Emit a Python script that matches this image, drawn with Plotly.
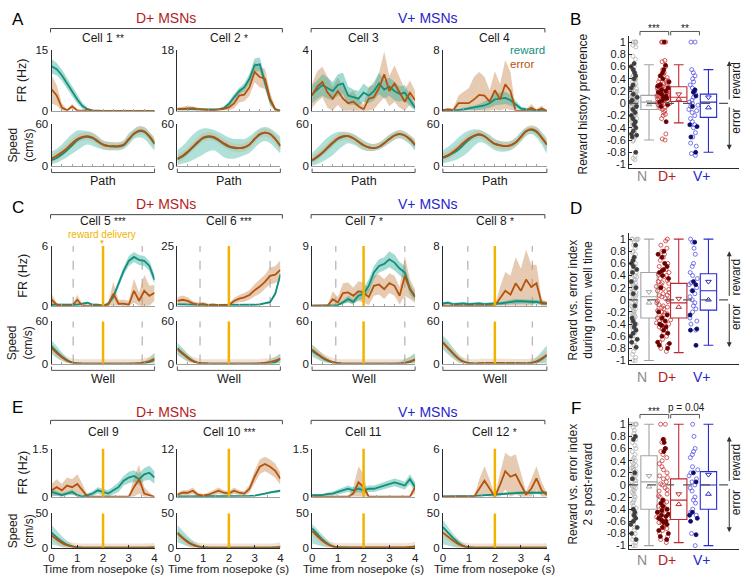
import plotly.graph_objects as go

# ---------------- data ----------------
PATH_X = [0, 0.05, 0.1, 0.15, 0.2, 0.25, 0.3, 0.35, 0.4, 0.45, 0.5, 0.55, 0.6, 0.65, 0.7, 0.75, 0.8, 0.85, 0.9, 0.95, 1]
TIME_X = [0, 0.2, 0.4, 0.6, 0.8, 1.0, 1.2, 1.4, 1.6, 1.8, 2.0, 2.2, 2.4, 2.6, 2.8, 3.0, 3.2, 3.4, 3.6, 3.8, 4.0]

# firing rate (mean, sem) reward / error
C1_RW = [11.0, 10.3, 8.8, 6.8, 4.8, 2.8, 1.2, 0.4, 0.1, 0, 0, 0, 0, 0, 0, 0, 0, 0, 0, 0, 0]
C1_RW_SE = [1.8, 1.5, 1.4, 1.3, 1.2, 1.0, 0.7, 0.3, 0.1, 0.05, 0.05, 0.05, 0.05, 0.05, 0.05, 0.05, 0.05, 0.05, 0.05, 0.05, 0.05]
C1_ER = [5.3, 3.8, 0.8, 0.1, 1.1, 0.1, 0.0, 0.3, 0, 0, 0, 0, 0, 0, 0, 0, 0, 0, 0, 0, 0]
C1_ER_SE = [3.5, 2.5, 1.0, 0.3, 0.6, 0.2, 0.1, 0.2, 0, 0, 0, 0, 0, 0, 0, 0, 0, 0, 0, 0, 0]

C2_RW = [0.5, 0.5, 0.4, 0.4, 0.3, 0.3, 0.3, 0.3, 0.4, 0.8, 2.0, 4.0, 5.8, 7.0, 9.5, 13.5, 13.8, 8.5, 3.0, 0.5, 0]
C2_RW_SE = [0.4, 0.3, 0.3, 0.3, 0.2, 0.2, 0.2, 0.2, 0.3, 0.5, 0.8, 1.0, 1.0, 1.2, 1.5, 2.0, 2.0, 1.5, 1.0, 0.3, 0]
C2_ER = [0.5, 0.6, 0.9, 0.8, 0.5, 0.3, 0.2, 0.2, 0.3, 0.6, 1.0, 2.2, 4.5, 4.8, 7.0, 11.5, 10.0, 9.5, 3.5, 0.4, 0]
C2_ER_SE = [0.4, 0.5, 0.6, 0.5, 0.4, 0.3, 0.2, 0.2, 0.3, 0.5, 0.8, 1.5, 2.0, 2.0, 2.5, 3.0, 3.0, 3.0, 2.0, 0.5, 0]

C3_RW = [1.1, 1.4, 1.7, 1.5, 1.3, 1.7, 1.8, 1.0, 0.9, 0.8, 1.2, 1.0, 1.3, 1.8, 1.4, 1.6, 1.3, 1.1, 1.2, 0.7, 0.2]
C3_RW_SE = [0.6, 0.6, 0.7, 0.7, 0.6, 0.7, 0.7, 0.6, 0.5, 0.5, 0.6, 0.5, 0.6, 0.7, 0.6, 0.6, 0.6, 0.5, 0.5, 0.4, 0.2]
C3_ER = [1.0, 1.6, 1.9, 1.2, 0.8, 1.3, 0.8, 0.5, 0.6, 0.3, 0.1, 0.8, 0.9, 1.5, 2.4, 1.3, 1.8, 1.2, 0.6, 1.2, 0.7]
C3_ER_SE = [0.8, 1.0, 1.0, 1.0, 0.8, 0.9, 0.8, 0.6, 0.7, 0.5, 0.3, 0.8, 0.8, 1.0, 1.5, 1.0, 1.2, 1.0, 0.8, 0.8, 0.6]

C4_RW = [0.1, 0.1, 0.1, 0.1, 0.2, 0.3, 0.4, 0.5, 0.7, 1.0, 1.5, 1.6, 1.7, 1.4, 0.8, 0.3, 0.2, 0.1, 0.1, 0.1, 0]
C4_RW_SE = [0.1, 0.1, 0.1, 0.1, 0.2, 0.2, 0.3, 0.4, 0.5, 0.6, 0.8, 0.8, 0.8, 0.7, 0.5, 0.3, 0.2, 0.1, 0.1, 0.1, 0]
C4_ER = [0.1, 0.2, 0.1, 1.0, 1.0, 1.0, 1.5, 2.1, 2.0, 1.2, 2.7, 1.5, 3.5, 2.6, 0, 0, 0, 0.4, 0, 0.3, 0]
C4_ER_SE = [0.1, 0.2, 0.2, 1.0, 1.5, 2.0, 3.0, 3.0, 2.5, 1.5, 2.5, 2.0, 3.2, 2.5, 0.2, 0, 0.2, 0.5, 0.2, 0.4, 0]

C5_RW = [0.1, 0.1, 0.1, 0.1, 0.1, 0.1, 0.2, 0.3, 0.1, 0.1, 0, 0.2, 0.9, 2.2, 3.5, 4.5, 4.9, 4.6, 4.5, 4.0, 2.6]
C5_RW_SE = [0.1, 0.1, 0.1, 0.1, 0.1, 0.1, 0.1, 0.1, 0.1, 0.1, 0.1, 0.2, 0.3, 0.4, 0.4, 0.5, 0.5, 0.5, 0.5, 0.5, 0.5]
C5_ER = [0.6, 0.1, 0, 0, 0, 0.6, 0, 0, 0, 0, 0, 0.1, 1.2, 0.2, 0.2, 0.1, 1.5, 0.5, 1.5, 1.0, 1.3]
C5_ER_SE = [0.6, 0.2, 0, 0, 0.1, 0.5, 0.1, 0, 0, 0, 0, 0.2, 1.2, 0.4, 0.4, 0.4, 1.2, 0.8, 1.6, 1.0, 0.8]

C6_RW = [0.6, 0.5, 0.4, 0.4, 0.4, 0.3, 0.3, 0.3, 0.3, 0.2, 0.2, 0.2, 0.2, 0.3, 0.3, 0.4, 0.6, 0.9, 1.5, 5.0, 13.0]
C6_RW_SE = [0.3, 0.3, 0.3, 0.3, 0.3, 0.3, 0.3, 0.3, 0.3, 0.2, 0.2, 0.2, 0.2, 0.2, 0.2, 0.3, 0.3, 0.4, 0.5, 0.8, 1.5]
C6_ER = [2.0, 2.5, 2.0, 1.0, 0.5, 0.8, 0.3, 0.5, 0.2, 0.2, 0.3, 2.0, 3.0, 3.5, 4.5, 6.5, 8.0, 10.0, 12.5, 13.0, 15.0]
C6_ER_SE = [1.5, 1.8, 1.5, 1.0, 0.8, 0.8, 0.5, 0.5, 0.4, 0.3, 0.4, 1.2, 1.5, 1.8, 2.0, 2.5, 3.0, 3.0, 3.5, 3.5, 4.0]

C7_RW = [0, 0, 0, 0, 0, 0.1, 0.5, 1.0, 0.6, 1.5, 1.8, 3.0, 5.0, 6.0, 6.3, 7.0, 6.5, 5.6, 5.0, 2.5, 1.3]
C7_RW_SE = [0, 0, 0, 0, 0, 0.1, 0.3, 0.5, 0.4, 0.6, 0.8, 1.0, 1.0, 1.0, 1.0, 1.2, 1.2, 1.0, 1.0, 0.8, 0.6]
C7_ER = [0, 0, 0, 0, 1.0, 0.5, 1.9, 2.0, 1.5, 2.2, 2.0, 1.3, 3.0, 3.2, 2.5, 3.4, 3.0, 1.5, 4.5, 2.5, 1.4]
C7_ER_SE = [0, 0, 0, 0, 1.2, 0.8, 1.5, 1.5, 1.2, 1.5, 1.5, 1.2, 1.5, 1.5, 1.5, 1.5, 1.5, 1.3, 3.0, 1.5, 1.0]

C8_RW = [0.3, 0.4, 0.2, 0.3, 0.3, 0.2, 0.3, 0.3, 0.2, 0.3, 0.3, 0.3, 0.4, 0.5, 0.6, 0.6, 0.6, 0.5, 0.5, 0.4, 0.3]
C8_RW_SE = [0.2, 0.2, 0.2, 0.2, 0.2, 0.2, 0.2, 0.2, 0.2, 0.2, 0.2, 0.2, 0.3, 0.3, 0.3, 0.3, 0.3, 0.3, 0.3, 0.3, 0.2]
C8_ER = [0, 0, 0, 0, 0, 0, 0, 0, 0, 0, 0, 1.0, 2.0, 1.5, 3.0, 2.0, 3.5, 2.5, 3.0, 0.3, 0.3]
C8_ER_SE = [0, 0, 0, 0, 0, 0, 0, 0, 0, 0, 0, 1.5, 2.5, 2.5, 3.5, 3.0, 4.0, 3.0, 2.5, 0.5, 0.3]

C9_RW = [0.15, 0.1, 0.05, 0.1, 0.15, 0.05, 0.0, 0.05, 0.1, 0.2, 0.15, 0.1, 0.2, 0.3, 0.5, 0.6, 0.65, 0.55, 0.7, 0.75, 0.6]
C9_RW_SE = [0.1, 0.08, 0.06, 0.06, 0.08, 0.06, 0.05, 0.06, 0.08, 0.1, 0.1, 0.1, 0.12, 0.15, 0.15, 0.18, 0.18, 0.18, 0.2, 0.22, 0.2]
C9_ER = [0.2, 0.3, 0.2, 0.35, 0.3, 0.4, 0.2, 0.0, 0, 0, 0, 0, 0, 0, 0, 0, 0.3, 0.55, 0.1, 0.05, 0]
C9_ER_SE = [0.2, 0.25, 0.2, 0.25, 0.25, 0.3, 0.2, 0.05, 0, 0, 0, 0, 0, 0, 0, 0, 0.3, 0.45, 0.2, 0.08, 0]

C10_RW = [0.1, 0.1, 0.1, 0.1, 0.1, 0.1, 0.1, 0.1, 0.1, 0.1, 0.1, 0.1, 0.1, 0.15, 0.2, 0.3, 0.5, 0.8, 1.1, 1.3, 1.5]
C10_RW_SE = [0.1, 0.1, 0.1, 0.1, 0.1, 0.1, 0.1, 0.1, 0.1, 0.1, 0.1, 0.1, 0.1, 0.1, 0.1, 0.15, 0.2, 0.2, 0.25, 0.3, 0.3]
C10_ER = [0.5, 1.0, 1.0, 1.5, 0.5, 0.3, 0.5, 1.0, 1.5, 1.0, 0.8, 1.5, 1.0, 0.8, 2.0, 5.0, 7.5, 8.2, 7.5, 6.5, 4.5]
C10_ER_SE = [0.5, 0.6, 0.6, 0.8, 0.5, 0.4, 0.5, 0.6, 0.8, 0.6, 0.6, 0.8, 0.6, 0.6, 1.0, 1.5, 1.8, 1.8, 1.8, 1.8, 1.5]

C11_RW = [0.05, 0.05, 0.05, 0.08, 0.1, 0.15, 0.2, 0.25, 0.2, 0.25, 0.2, 0.25, 0.25, 0.3, 0.35, 0.4, 0.45, 0.4, 0.35, 0.55, 0.3]
C11_RW_SE = [0.03, 0.03, 0.04, 0.05, 0.06, 0.08, 0.1, 0.1, 0.1, 0.1, 0.1, 0.1, 0.1, 0.1, 0.12, 0.12, 0.12, 0.12, 0.12, 0.15, 0.15]
C11_ER = [0, 0, 0, 0, 0, 0, 0, 0, 0.1, 0.45, 0.3, 0, 0, 0, 0, 0, 0, 0, 0, 0, 0.3]
C11_ER_SE = [0, 0, 0, 0, 0, 0, 0, 0, 0.2, 0.5, 0.4, 0, 0, 0, 0, 0, 0, 0, 0, 0, 0.2]

C12_RW = [0.05, 0.05, 0.05, 0.05, 0.05, 0.1, 0.1, 0.15, 0.2, 0.25, 0.3, 0.35, 0.4, 0.45, 0.5, 0.5, 0.5, 0.5, 0.5, 0.5, 0.5]
C12_RW_SE = [0.05, 0.05, 0.05, 0.05, 0.05, 0.05, 0.05, 0.08, 0.1, 0.1, 0.12, 0.12, 0.15, 0.15, 0.15, 0.15, 0.15, 0.15, 0.15, 0.2, 0.2]
C12_ER = [0, 0, 0, 0, 0, 0, 0, 1.0, 2.0, 1.0, 0.0, 1.5, 3.2, 2.5, 2.8, 1.5, 0.3, 1.0, 2.3, 0.8, 0.2]
C12_ER_SE = [0, 0, 0, 0, 0, 0, 0, 1.2, 1.8, 1.2, 0.1, 1.5, 2.3, 2.5, 2.5, 1.5, 0.4, 1.2, 1.5, 1.0, 0.3]

# running speed: reward mean, error mean, trial envelope low / high
S1_RW = [8, 11, 16, 22, 29, 36, 40, 41, 39, 34, 30, 28, 27, 27, 29, 37, 45, 49, 48, 41, 31]
S1_ER = [10, 14, 19, 25, 32, 38, 41, 42, 40, 35, 30, 28, 28, 28, 30, 38, 46, 50, 49, 42, 32]
S1_LO = [2, 4, 8, 12, 17, 22, 27, 30, 28, 25, 23, 22, 22, 22, 24, 30, 38, 40, 38, 30, 22]
S1_HI = [20, 24, 30, 38, 45, 50, 50, 49, 47, 42, 36, 34, 33, 33, 36, 46, 52, 56, 55, 48, 38]

S2_RW = [9, 13, 19, 26, 33, 39, 41, 40, 36, 31, 27, 25, 25, 26, 30, 38, 44, 47, 45, 38, 28]
S2_ER = [10, 14, 20, 27, 34, 40, 42, 41, 37, 32, 28, 26, 25, 26, 30, 38, 45, 47, 45, 38, 28]
S2_LO = [1, 3, 5, 8, 12, 16, 20, 22, 18, 12, 10, 10, 12, 15, 18, 25, 32, 35, 32, 25, 18]
S2_HI = [22, 28, 36, 44, 50, 53, 53, 51, 48, 44, 40, 38, 38, 38, 42, 48, 53, 55, 53, 48, 40]

S3_RW = [7, 12, 18, 25, 32, 38, 41, 42, 39, 34, 29, 26, 25, 27, 32, 38, 43, 45, 43, 37, 29]
S3_ER = [8, 13, 19, 26, 33, 39, 42, 42, 39, 34, 29, 26, 25, 27, 32, 38, 43, 45, 43, 38, 30]
S3_LO = [0, 2, 6, 10, 15, 22, 28, 32, 30, 26, 22, 21, 21, 23, 27, 32, 37, 39, 36, 30, 22]
S3_HI = [18, 25, 33, 40, 45, 48, 48, 47, 45, 41, 36, 32, 31, 33, 38, 44, 48, 50, 48, 43, 36]

S4_RW = [11, 14, 18, 23, 30, 37, 42, 44, 42, 36, 31, 29, 28, 29, 33, 41, 49, 51, 48, 40, 30]
S4_ER = [12, 15, 20, 26, 33, 39, 43, 45, 42, 36, 31, 29, 28, 29, 33, 41, 49, 52, 49, 40, 30]
S4_LO = [3, 5, 7, 10, 14, 20, 28, 33, 32, 27, 22, 20, 20, 22, 27, 34, 42, 45, 40, 30, 18]
S4_HI = [22, 27, 33, 40, 46, 50, 52, 51, 48, 44, 38, 35, 34, 35, 40, 48, 54, 56, 55, 48, 38]

S5_RW = [25, 17, 10, 5, 1.5, 0.3, 0, 0, 0, 0, 0, 0, 0, 0, 0, 0, 0, 0, 0.5, 2, 5]
S5_ER = [22, 15, 9, 4, 1, 0.3, 0, 0, 0, 0, 0, 0, 0, 0, 0, 0, 0.2, 0.5, 1.5, 3.5, 7]
S5_LO = [14, 8, 4, 1, 0, 0, 0, 0, 0, 0, 0, 0, 0, 0, 0, 0, 0, 0, 0, 0, 0]
S5_HI = [33, 25, 16, 8, 3, 1, 0.5, 0.5, 0.5, 0.5, 0.5, 0.5, 0.5, 0.5, 0.5, 0.8, 1, 2, 4, 8, 15]

S6_RW = [22, 15, 9, 4, 1, 0.2, 0, 0, 0, 0, 0, 0, 0, 0, 0, 0, 0, 0, 0.3, 1.5, 7]
S6_ER = [20, 14, 8, 3.5, 1, 0.2, 0, 0, 0, 0, 0, 0, 0, 0, 0, 0, 0.5, 1, 2, 4, 7]
S6_LO = [12, 7, 3, 1, 0, 0, 0, 0, 0, 0, 0, 0, 0, 0, 0, 0, 0, 0, 0, 0, 0]
S6_HI = [30, 22, 14, 7, 3, 1, 0.5, 0.5, 0.5, 0.5, 0.5, 0.5, 0.5, 0.5, 0.5, 1, 2, 3, 6, 9, 14]

S7_RW = [18, 13, 8, 4, 1.5, 0.5, 0, 0, 0, 0, 0, 0, 0, 0, 0, 0, 0, 0, 0.5, 2, 5]
S7_ER = [20, 14, 9, 5, 2, 0.5, 0, 0, 0, 0, 0, 0, 0, 0, 0, 0, 0, 0, 1, 3, 6]
S7_LO = [10, 6, 3, 1, 0, 0, 0, 0, 0, 0, 0, 0, 0, 0, 0, 0, 0, 0, 0, 0, 0]
S7_HI = [27, 21, 14, 8, 4, 1.5, 0.5, 0.5, 0.5, 0.5, 0.5, 0.5, 0.5, 0.5, 0.5, 0.5, 1, 3, 6, 10, 14]

S8_RW = [30, 22, 14, 7, 2.5, 0.5, 0, 0, 0, 0, 0, 0.3, 0.5, 0.5, 0.5, 0.3, 0.3, 0.5, 2, 6, 12]
S8_ER = [30, 22, 14, 7, 2.5, 0.5, 0, 0.5, 0.8, 0.8, 0.8, 0.8, 0.8, 0.5, 0.5, 0.3, 0.5, 1, 3, 7, 12]
S8_LO = [20, 13, 7, 2, 0, 0, 0, 0, 0, 0, 0, 0, 0, 0, 0, 0, 0, 0, 0, 0, 0]
S8_HI = [40, 32, 22, 13, 6, 2, 1, 1.5, 1.5, 1.5, 1.5, 1.5, 1.5, 1.5, 1.5, 1.5, 2, 4, 9, 17, 25]

S9_RW = [22, 15, 9, 4.5, 2, 0.7, 0.2, 0, 0, 0, 0, 0, 0, 0, 0, 0, 0, 0, 0, 0, 0]
S9_ER = [18, 12, 7, 3.5, 1.5, 0.5, 0.1, 0, 0, 0, 0, 0, 0, 0, 0, 0, 0, 0, 0, 0.3, 0.5]
S9_LO = [5, 3, 1, 0, 0, 0, 0, 0, 0, 0, 0, 0, 0, 0, 0, 0, 0, 0, 0, 0, 0]
S9_HI = [33, 25, 17, 10, 5, 2, 1, 0.5, 0.5, 0.5, 0.5, 0.5, 0.5, 0.5, 0.5, 0.5, 0.5, 0.5, 0.5, 1, 3]

S10_RW = [22, 15, 9, 4.5, 2, 0.7, 0.2, 0, 0, 0, 0, 0, 0, 0, 0, 0, 0, 0, 0, 0, 0]
S10_ER = [21, 14, 8, 4, 1.5, 0.5, 0.1, 0, 0, 0, 0, 0, 0, 0, 0, 0, 0, 0, 0, 0.5, 1]
S10_LO = [8, 5, 2, 0, 0, 0, 0, 0, 0, 0, 0, 0, 0, 0, 0, 0, 0, 0, 0, 0, 0]
S10_HI = [33, 25, 17, 10, 5, 2, 1, 0.8, 0.8, 0.8, 0.8, 0.8, 0.8, 0.8, 0.8, 0.8, 0.8, 0.8, 0.8, 2, 3]

S11_RW = [28, 20, 12, 6, 2, 0.7, 0.3, 0, 0, 0, 0, 0, 0, 0, 0, 0, 0, 0, 0, 0, 0]
S11_ER = [24, 17, 10, 5, 2, 0.5, 0.3, 0.5, 0.5, 0.5, 0.5, 0.5, 0.5, 0.5, 0.5, 0.5, 0.5, 0.5, 0.5, 1, 2]
S11_LO = [6, 4, 2, 0.5, 0, 0, 0, 0, 0, 0, 0, 0, 0, 0, 0, 0, 0, 0, 0, 0, 0]
S11_HI = [34, 27, 19, 11, 5, 2, 1, 1, 1, 1, 1, 1, 1, 1, 1, 1, 1, 1, 1, 2, 4]

S12_RW = [30, 22, 14, 7, 2.5, 0.7, 0.2, 0, 0, 0, 0, 0, 0, 0, 0, 0, 0, 0, 0, 0, 0]
S12_ER = [22, 16, 10, 5, 2, 0.5, 0.1, 0, 0, 0, 0, 0, 0, 0, 0, 0, 0, 0, 0, 0, 0]
S12_LO = [5, 3, 1, 0, 0, 0, 0, 0, 0, 0, 0, 0, 0, 0, 0, 0, 0, 0, 0, 0, 0]
S12_HI = [40, 30, 20, 12, 6, 2, 1, 0.5, 0.5, 0.5, 0.5, 0.5, 0.5, 0.5, 0.5, 0.5, 0.5, 0.5, 0.5, 0.5, 0.5]

CELL_LABELS = ["Cell 1 **", "Cell 2 *", "Cell 3", "Cell 4", "Cell 5 ***", "Cell 6 ***",
               "Cell 7 *", "Cell 8 *", "Cell 9", "Cell 10 ***", "Cell 11", "Cell 12 *"]
FR_MAX = [15, 18, 4, 8, 6, 25, 9, 8, 1.5, 12, 1.5, 6]
WELL_DASHES = [[0.21, 0.88], [0.22, 0.9], [0.23, 0.9], [0.24, 0.86]]

# population panels: open (all) and filled (significant) points
GROUPS = ["N", "D+", "V+"]
B_N_OPEN = [1, 1, 1, 1, 0.95, 0.92, 0.77, 0.72, 0.6, 0.55, 0.5, 0.45, 0.42, 0.38, 0.35, 0.32, 0.3, 0.28, 0.25, 0.22,
            0.2, 0.18, 0.16, 0.14, 0.12, 0.1, 0.09, 0.08, 0.06, 0.05, 0.04, 0.02, 0.01, 0, 0, -0.01, -0.02, -0.04,
            -0.05, -0.06, -0.08, -0.1, -0.12, -0.14, -0.16, -0.18, -0.2, -0.22, -0.25, -0.28, -0.3, -0.33, -0.36,
            -0.4, -0.45, -0.5, -0.55, -0.6, -0.62, -0.85, -0.9, -0.92, 0.03, -0.03, 0.07, -0.07, 0.11, -0.11, 0.15,
            -0.15, 0.19, -0.19, 0.24, -0.24, 0.3, -0.3, 0.4, -0.35]
B_N_FILL = [0.65, 0.6, 0.55, 0.5, 0.45, 0.4, 0.3, 0.25, 0.15, 0.1, 0.05, -0.05, -0.1, -0.15, -0.2, -0.25, -0.3, -0.35,
            -0.4, -0.45, -0.5, -0.52, -0.55, -0.8, 0.02]
B_D_OPEN = [1, 1, 1, 0.7, 0.68, 0.6, 0.55, 0.5, 0.48, 0.45, 0.42, 0.4, 0.38, 0.36, 0.34, 0.32, 0.3, 0.29, 0.28, 0.26,
            0.25, 0.24, 0.22, 0.21, 0.2, 0.19, 0.18, 0.17, 0.16, 0.15, 0.14, 0.13, 0.12, 0.11, 0.1, 0.09, 0.08, 0.07,
            0.06, 0.05, 0.04, 0.03, 0.02, 0.01, 0, -0.01, -0.02, -0.04, -0.06, -0.08, -0.1, -0.12, -0.15, -0.18, -0.2,
            -0.25, -0.5, -0.58, -0.6, 0.27, 0.23, 0.35, 0.31, 0.12, 0.08, 0.04, -0.03]
B_D_FILL = [1, 0.62, 0.55, 0.5, 0.45, 0.4, 0.35, 0.3, 0.28, 0.25, 0.22, 0.2, 0.18, 0.15, 0.12, 0.1, 0.08, 0.05, 0.02,
            -0.02, -0.05, -0.3]
B_V_OPEN = [1, 1, 0.55, 0.5, 0.45, 0.4, 0.35, 0.3, 0.25, 0.2, 0.15, 0.1, 0.05, 0.02, 0, -0.03, -0.05, -0.1, -0.12,
            -0.15, -0.2, -0.25, -0.3, -0.35, -0.4, -0.48, -0.55, -0.65, -0.7, -0.82, -0.85]
B_V_FILL = [0.22, 0.18, 0.12, -0.05, -0.35, -0.38, -0.55, -0.8]

D_N_OPEN = [1, 1, 1, 1, 0.98, 0.95, 0.9, 0.85, 0.8, 0.78, 0.75, 0.7, 0.65, 0.6, 0.58, 0.55, 0.5, 0.48, 0.45, 0.42,
            0.4, 0.38, 0.35, 0.32, 0.3, 0.28, 0.25, 0.22, 0.2, 0.18, 0.15, 0.12, 0.1, 0.08, 0.05, 0.02, 0, -0.02,
            -0.05, -0.08, -0.1, -0.12, -0.15, -0.18, -0.2, -0.22, -0.25, -0.28, -0.3, -0.32, -0.35, -0.38, -0.4,
            -0.42, -0.45, -0.48, -0.5, -0.55, -0.6, -0.65, -0.7, -0.75, -0.8, -0.85, -0.9, -0.95, -1, -1, 0.33,
            0.27, 0.17, 0.07, -0.03, -0.13, -0.23]
D_N_FILL = [0.9, 0.7, 0.65, 0.6, 0.55, 0.5, 0.45, 0.2, 0.1, -0.3, -0.35, -0.4, -0.45, -0.5, -0.55, -0.6, -0.65, -0.7,
            -0.78, -0.1, 0.3]
D_D_OPEN = [1, 0.97, 0.9, 0.85, 0.8, 0.75, 0.7, 0.65, 0.6, 0.55, 0.5, 0.45, 0.42, 0.4, 0.38, 0.35, 0.32, 0.3, 0.28,
            0.25, 0.22, 0.2, 0.18, 0.15, 0.12, 0.1, 0.08, 0.05, 0.02, 0, -0.02, -0.05, -0.08, -0.1, -0.12, -0.15,
            -0.18, -0.2, -0.22, -0.25, -0.28, -0.3, -0.32, -0.35, -0.38, -0.4, -0.42, -0.45, -0.48, -0.5, -0.55,
            -0.6, -0.65, -0.7, -0.75, -0.8, -0.85, 0.27, 0.17, 0.07, -0.03, -0.13, -0.23, -0.33, -0.43]
D_D_FILL = [0.8, 0.75, 0.7, 0.6, 0.55, 0.5, 0.48, 0.45, 0.4, 0.35, -0.2, -0.25, -0.3, -0.35, -0.4, -0.42, -0.45, -0.5,
            -0.55, -0.6, -0.7, -0.72, -0.75, -0.8, 0.2]
D_V_OPEN = [1, 0.95, 0.85, 0.75, 0.6, 0.55, 0.45, 0.4, 0.35, 0.28, 0.25, 0.2, 0.15, 0.1, 0.05, 0, -0.05, -0.1, -0.15,
            -0.2, -0.3, -0.35, -0.4, -0.5]
D_V_FILL = [0.95, 0.3, 0.25, 0.15, -0.25, -0.48, -0.5, -0.75]

F_N_OPEN = [1, 1, 1, 1, 1, 0.95, 0.9, 0.85, 0.8, 0.75, 0.7, 0.65, 0.6, 0.55, 0.5, 0.45, 0.4, 0.38, 0.35, 0.32, 0.3,
            0.28, 0.25, 0.22, 0.2, 0.18, 0.15, 0.12, 0.1, 0.08, 0.05, 0.02, 0, -0.02, -0.05, -0.08, -0.1, -0.12,
            -0.15, -0.2, -0.25, -0.3, -0.35, -0.4, -0.45, -0.5, -0.55, -0.6, -0.65, -0.7, -0.75, -0.8, -0.85, -0.9,
            -0.95, -1, -1, 0.42, 0.27, 0.17, 0.07, -0.03, -0.18, -0.28, -0.38, -0.48]
F_N_FILL = [0.8, 0.75, 0.2, 0.1, -0.4, -0.45, -0.5, -0.55, -0.6, -0.65, -0.7, -0.8, -0.9]
F_D_OPEN = [1, 1, 0.75, 0.7, 0.6, 0.55, 0.5, 0.45, 0.4, 0.35, 0.3, 0.25, 0.2, 0.15, 0.1, 0.05, 0, -0.05, -0.1, -0.15,
            -0.2, -0.25, -0.3, -0.32, -0.35, -0.38, -0.4, -0.42, -0.45, -0.48, -0.5, -0.52, -0.55, -0.58, -0.6, -0.62,
            -0.65, -0.7, -0.75, -0.8, -0.85, -0.9, -0.95, 0.12, 0.02, -0.08, -0.18, -0.28, -0.37, -0.44, -0.53,
            -0.63, -0.72]
F_D_FILL = [0.75, 0.7, 0.6, 0.55, -0.25, -0.3, -0.35, -0.4, -0.42, -0.45, -0.5, -0.52, -0.55, -0.6, -0.62, -0.65,
            -0.7, -0.75, -0.8, -0.85, -0.9, -0.48, -0.58]
F_V_OPEN = [1, 0.8, 0.6, 0.5, 0.45, 0.3, 0.25, 0.2, 0.15, 0.1, 0.05, 0, -0.05, -0.1, -0.2, -0.3, -0.4, -0.45, -0.5,
            -0.8, -1, 0.55, -0.25]
F_V_FILL = [0.2, 0.05, -0.45, -0.5, -0.55, -0.6, -0.82]

# box summaries per group (N, D+, V+)
B_Q1 = [-0.1, 0.03, -0.23]
B_MED = [0.02, 0.1, 0.02]
B_Q3 = [0.13, 0.27, 0.15]
B_LO = [-0.6, -0.32, -0.8]
B_HI = [0.63, 0.63, 0.55]
B_TRI_DN = [0.02, 0.15, 0.1]
B_TRI_UP = [-0.02, 0.07, -0.07]

D_Q1 = [-0.3, -0.3, -0.17]
D_MED = [0.05, -0.05, 0.15]
D_Q3 = [0.45, 0.27, 0.43]
D_LO = [-1, -0.87, -0.75]
D_HI = [1, 1, 1]
D_TRI_DN = [0.13, 0.02, 0.3]
D_TRI_UP = [-0.05, -0.12, 0.0]

F_Q1 = [-0.4, -0.57, -0.4]
F_MED = [0.05, -0.25, 0.0]
F_Q3 = [0.48, 0.1, 0.22]
F_LO = [-1, -0.95, -1]
F_HI = [1, 1, 1]
F_TRI_DN = [0.15, -0.15, 0.17]
F_TRI_UP = [-0.03, -0.32, -0.15]

BOX_TICKS = [1, 0.8, 0.6, 0.4, 0.2, 0, -0.2, -0.4, -0.6, -0.8, -1]

# ---------------- style ----------------
W, H = 750, 586
FONT = "Liberation Sans, Arial, sans-serif"
TEAL = "#128f7b"
TEAL_BAND = "rgba(52,176,156,0.45)"
TEAL_TRIALS = "rgba(110,200,185,0.55)"
ORANGE = "#b5530c"
ORANGE_BAND = "rgba(205,150,100,0.5)"
ORANGE_TRIALS = "rgba(215,170,130,0.35)"
GOLD = "#f0b400"
DRED = "#b31b22"
BLUE = "#2626c9"
AXC = "#2b2b2b"
GREYAX = "#a0a0a0"

BOX_LINE = ["#a3a3a3", "#c0282e", "#2a2ad2"]
PT_OPEN = ["#b4b4b4", "#cc3a3a", "#5656e6"]
PT_FILL = ["#3d3d3d", "#6a0000", "#0c0c6e"]
LABEL_COL = ["#8a8a8a", DRED, BLUE]
PT_JITTER = [0.45, 0.85, 0.55]

COLS = [(49, 153), (176, 280), (312, 416), (444, 549)]
FR_ROWS = [(45, 107), (245, 306), (452, 501)]
SPD_ROWS = [(120, 163), (322, 365), (518, 553)]


def fx(p):
    return p / W


def fy(p):
    return 1 - p / H


def names(i):
    s = "" if i == 1 else str(i)
    return "x" + s, "y" + s, "xaxis" + s, "yaxis" + s


def band(x, lo, hi, color, xa, ya, shape="linear"):
    return go.Scatter(x=list(x) + list(x)[::-1], y=list(hi) + list(lo)[::-1], fill="toself",
                      fillcolor=color, line=dict(width=0, shape=shape), mode="lines",
                      hoverinfo="skip", xaxis=xa, yaxis=ya)


def line(x, y, color, xa, ya, width=1.8, shape="spline", smoothing=0.6):
    return go.Scatter(x=x, y=y, mode="lines", line=dict(color=color, width=width, shape=shape, smoothing=smoothing),
                      hoverinfo="skip", xaxis=xa, yaxis=ya)


def ann(x, y, text, size=11, color="#1a1a1a", angle=0, xanchor="center", yanchor="middle"):
    return dict(xref="paper", yref="paper", x=fx(x), y=fy(y), text=text, showarrow=False, textangle=angle,
                font=dict(size=size, color=color, family=FONT), xanchor=xanchor, yanchor=yanchor)


def bracket(x0, x1, y, d, color="#444", width=1):
    path = f"M{fx(x0)},{fy(y + d)} L{fx(x0)},{fy(y)} L{fx(x1)},{fy(y)} L{fx(x1)},{fy(y + d)}"
    return dict(type="path", path=path, xref="paper", yref="paper", line=dict(color=color, width=width))


fr_data = [(C1_RW, C1_RW_SE, C1_ER, C1_ER_SE), (C2_RW, C2_RW_SE, C2_ER, C2_ER_SE),
           (C3_RW, C3_RW_SE, C3_ER, C3_ER_SE), (C4_RW, C4_RW_SE, C4_ER, C4_ER_SE),
           (C5_RW, C5_RW_SE, C5_ER, C5_ER_SE), (C6_RW, C6_RW_SE, C6_ER, C6_ER_SE),
           (C7_RW, C7_RW_SE, C7_ER, C7_ER_SE), (C8_RW, C8_RW_SE, C8_ER, C8_ER_SE),
           (C9_RW, C9_RW_SE, C9_ER, C9_ER_SE), (C10_RW, C10_RW_SE, C10_ER, C10_ER_SE),
           (C11_RW, C11_RW_SE, C11_ER, C11_ER_SE), (C12_RW, C12_RW_SE, C12_ER, C12_ER_SE)]
spd_data = [(S1_RW, S1_ER, S1_LO, S1_HI), (S2_RW, S2_ER, S2_LO, S2_HI), (S3_RW, S3_ER, S3_LO, S3_HI),
            (S4_RW, S4_ER, S4_LO, S4_HI), (S5_RW, S5_ER, S5_LO, S5_HI), (S6_RW, S6_ER, S6_LO, S6_HI),
            (S7_RW, S7_ER, S7_LO, S7_HI), (S8_RW, S8_ER, S8_LO, S8_HI), (S9_RW, S9_ER, S9_LO, S9_HI),
            (S10_RW, S10_ER, S10_LO, S10_HI), (S11_RW, S11_ER, S11_LO, S11_HI), (S12_RW, S12_ER, S12_LO, S12_HI)]

fig = go.Figure()
layout = {}
shapes = []
annotations = []

for c in range(12):
    row, col = c // 4, c % 4
    xgrid = TIME_X if row == 2 else PATH_X
    xmax = 4 if row == 2 else 1
    spmax = 50 if row == 2 else 60
    l, r = COLS[col]
    fi, si = 2 * c + 1, 2 * c + 2
    fxa, fya, fxk, fyk = names(fi)
    sxa, sya, sxk, syk = names(si)
    rw, rw_se, er, er_se = fr_data[c]
    s_rw, s_er, s_lo, s_hi = spd_data[c]

    # firing rate
    fig.add_trace(band(xgrid, [max(0, m - s) for m, s in zip(er, er_se)], [m + s for m, s in zip(er, er_se)],
                       ORANGE_BAND, fxa, fya))
    fig.add_trace(band(xgrid, [max(0, m - s) for m, s in zip(rw, rw_se)], [m + s for m, s in zip(rw, rw_se)],
                       TEAL_BAND, fxa, fya))
    fig.add_trace(line(xgrid, rw, TEAL, fxa, fya, shape="linear"))
    fig.add_trace(line(xgrid, er, ORANGE, fxa, fya, shape="linear"))

    # speed
    fig.add_trace(band(xgrid, s_lo, s_hi, TEAL_TRIALS, sxa, sya, shape="spline"))
    fig.add_trace(band(xgrid, [max(a, b - 6) for a, b in zip(s_lo, s_er)], [b + 6 for b in s_er],
                       ORANGE_TRIALS, sxa, sya, shape="spline"))
    fig.add_trace(line(xgrid, s_rw, TEAL, sxa, sya, width=1.8, smoothing=1))
    fig.add_trace(line(xgrid, s_er, ORANGE, sxa, sya, width=1.8, smoothing=1))

    ft, fb = FR_ROWS[row]
    st, sb = SPD_ROWS[row]
    common_y = dict(showgrid=False, zeroline=False, showline=True, linecolor=AXC, linewidth=1, ticks="inside",
                    ticklen=3, tickcolor=AXC, tickfont=dict(size=11.5, color="#1a1a1a", family=FONT))
    dt = 0.5 if row == 2 else 0.1
    layout[fxk] = dict(domain=[fx(l), fx(r)], range=[0, xmax], anchor=fya, showgrid=False, zeroline=False,
                       showline=True, linecolor=GREYAX, ticks="inside", ticklen=2, tickcolor=GREYAX,
                       dtick=dt, showticklabels=False)
    layout[fyk] = dict(domain=[fy(fb), fy(ft)], range=[0, FR_MAX[c]], anchor=fxa, tickvals=[0, FR_MAX[c]],
                       ticktext=["0", str(FR_MAX[c])], **common_y)
    if row == 2:
        layout[sxk] = dict(domain=[fx(l), fx(r)], range=[0, 4], anchor=sya, showgrid=False, zeroline=False,
                           showline=True, linecolor=AXC, ticks="inside", ticklen=3, tickcolor=AXC,
                           tickvals=[0, 1, 2, 3, 4], tickfont=dict(size=11.5, color="#1a1a1a", family=FONT))
    else:
        layout[sxk] = dict(domain=[fx(l), fx(r)], range=[0, 1], anchor=sya, showgrid=False, zeroline=False,
                           showline=True, linecolor=GREYAX, ticks="inside", ticklen=2, tickcolor=GREYAX,
                           dtick=0.1, showticklabels=False)
    layout[syk] = dict(domain=[fy(sb), fy(st)], range=[0, spmax], anchor=sxa, tickvals=[0, spmax],
                       ticktext=["0", str(spmax)], **common_y)

    # reward delivery + well boundaries
    if row >= 1:
        gx = 0.5 if row == 1 else 2
        for xa, ya in ((fxa, fya), (sxa, sya)):
            shapes.append(dict(type="line", xref=xa, yref=ya + " domain", x0=gx, x1=gx,
                               y0=0, y1=1, line=dict(color=GOLD, width=2.5)))
    if row == 1:
        for dx in WELL_DASHES[col]:
            for xa, ya in ((fxa, fya), (sxa, sya)):
                shapes.insert(0, dict(type="line", xref=xa, yref=ya + " domain", x0=dx, x1=dx, y0=0, y1=1,
                                      line=dict(color="#b0b0b0", width=1.2, dash="dash"), layer="below"))

    # Path / Well bracket under speed plot
    if row < 2:
        shapes.append(bracket(l, r, sb + 7, -4, color="#555"))
        annotations.append(ann((l + r) / 2, sb + 16, "Path" if row == 0 else "Well", size=12.5))
    else:
        annotations.append(ann((l + r) / 2, 575, "Time from nosepoke (s)", size=11.5))

    # cell label
    parts = CELL_LABELS[c].split(" ")
    lab = parts[0] + " " + parts[1]
    if len(parts) > 2:
        lab += " <span style='font-size:10px'>" + parts[2] + "</span>"
    cy = [33, 220, 435][row]
    annotations.append(ann((l + r) / 2, cy, lab, size=12))

# row titles / group headers
for row, (ft, fb) in enumerate(FR_ROWS):
    st, sb = SPD_ROWS[row]
    annotations.append(ann(20, (ft + fb) / 2, "FR (Hz)", size=12.5, angle=-90))
    annotations.append(ann(18, (st + sb) / 2, "Speed<br>(cm/s)", size=12, angle=-90))
    hy, by = [(12, 23), (202, 213), (414, 423)][row]
    annotations.append(ann(165, hy, "D+ MSNs", size=14, color=DRED))
    annotations.append(ann(429, hy, "V+ MSNs", size=14, color=BLUE))
    shapes.append(bracket(48, 282, by, 4))
    shapes.append(bracket(311, 547, by, 4))

annotations.append(ann(100, 233, "reward delivery", size=10, color=GOLD))
annotations.append(ann(100, 241, "▼", size=6, color=GOLD))
annotations.append(ann(510, 45, "reward", size=11.5, color=TEAL, xanchor="left"))
annotations.append(ann(510, 59, "error", size=11.5, color=ORANGE, xanchor="left"))

# population box panels
box_sets = [
    ((B_N_OPEN, B_D_OPEN, B_V_OPEN), (B_N_FILL, B_D_FILL, B_V_FILL),
     (B_Q1, B_MED, B_Q3, B_LO, B_HI, B_TRI_DN, B_TRI_UP), (30.6, 165), (0.69, -0.76), 174),
    ((D_N_OPEN, D_D_OPEN, D_V_OPEN), (D_N_FILL, D_D_FILL, D_V_FILL),
     (D_Q1, D_MED, D_Q3, D_LO, D_HI, D_TRI_DN, D_TRI_UP), (231.8, 365), (0.8, -0.78), 379),
    ((F_N_OPEN, F_D_OPEN, F_V_OPEN), (F_N_FILL, F_D_FILL, F_V_FILL),
     (F_Q1, F_MED, F_Q3, F_LO, F_HI, F_TRI_DN, F_TRI_UP), (420.8, 554), (0.8, -0.78), 566),
]
for k, (opens, fills, stats, (top, bot), (atop, abot), laby) in enumerate(box_sets):
    idx = 25 + k
    xa, ya, xk, yk = names(idx)
    q1, med, q3, lo, hi, tdn, tup = stats
    for g in range(3):
        for vals, sym, col in ((opens[g], "circle-open", PT_OPEN[g]), (fills[g], "circle", PT_FILL[g])):
            fig.add_trace(go.Box(y=vals, x0=g, width=0.6, boxpoints="all", jitter=PT_JITTER[g], pointpos=0,
                                 fillcolor="rgba(0,0,0,0)", line=dict(width=0, color="rgba(0,0,0,0)"),
                                 whiskerwidth=0, marker=dict(symbol=sym, size=4, color=col,
                                                             line=dict(width=0.8, color=col)),
                                 hoverinfo="skip", xaxis=xa, yaxis=ya))
        fig.add_trace(go.Box(x=[g + 0.5], q1=[q1[g]], median=[med[g]], q3=[q3[g]], lowerfence=[lo[g]],
                             upperfence=[hi[g]], width=0.55, whiskerwidth=0.6, fillcolor="white",
                             line=dict(color=BOX_LINE[g], width=1.1), boxpoints=False, hoverinfo="skip",
                             xaxis=xa, yaxis=ya))
        fig.add_trace(go.Scatter(x=[g + 0.5, g + 0.5], y=[tdn[g], tup[g]], mode="markers",
                                 marker=dict(symbol=["triangle-down-open", "triangle-up-open"], size=5,
                                             color=BOX_LINE[g], line=dict(width=1, color=BOX_LINE[g])),
                                 hoverinfo="skip", xaxis=xa, yaxis=ya))
        annotations.append(dict(xref=xa, yref="paper", x=[0.27, 1.1, 2.27][g], y=fy(laby), text=GROUPS[g],
                                showarrow=False, xanchor="center", yanchor="middle",
                                font=dict(size=14, color=LABEL_COL[g], family=FONT)))
    layout[xk] = dict(domain=[fx(632), fx(743)], range=[-0.17, 3.53], anchor=ya, showgrid=False, zeroline=False,
                      showline=True, linecolor=AXC, ticks="", showticklabels=False)
    layout[yk] = dict(domain=[fy(bot), fy(top)], range=[-1.05, 1.1], anchor=xa, showgrid=False, zeroline=False,
                      showline=True, linecolor=AXC, ticks="inside", ticklen=3, tickcolor=AXC,
                      tickvals=BOX_TICKS, ticktext=[str(v) for v in BOX_TICKS],
                      tickfont=dict(size=11, color="#1a1a1a", family=FONT))
    shapes.append(dict(type="line", xref=xa, yref=ya, x0=-0.17, x1=3.33, y0=0, y1=0,
                       line=dict(color="#555", width=1.2, dash="dash")))
    # reward / error arrows
    for y_tail, y_head in ((0.04, atop), (-0.04, abot)):
        annotations.append(dict(xref=xa, yref=ya, axref=xa, ayref=ya, x=3.2, y=y_head, ax=3.2, ay=y_tail,
                                text="", showarrow=True, arrowhead=2, arrowsize=1, arrowwidth=1,
                                arrowcolor="#333"))
    annotations.append(dict(xref=xa, yref=ya, x=3.43, y=0.37, text="reward", textangle=-90, showarrow=False,
                            xanchor="center", yanchor="middle", font=dict(size=12, color="#1a1a1a", family=FONT)))
    annotations.append(dict(xref=xa, yref=ya, x=3.43, y=-0.3, text="error", textangle=-90, showarrow=False,
                            xanchor="center", yanchor="middle", font=dict(size=12, color="#1a1a1a", family=FONT)))

annotations.append(ann(585, 100, "Reward history preference", size=12, angle=-90))
annotations.append(ann(583, 300, "Reward vs. error index<br>during norm. well time", size=12, angle=-90))
annotations.append(ann(583, 488, "Reward vs. error index<br>2 s post-reward", size=12, angle=-90))

# significance brackets
shapes.append(bracket(643, 672, 26, 4, color="#555"))
shapes.append(bracket(674, 703, 26, 4, color="#555"))
annotations.append(ann(657, 23, "***", size=10))
annotations.append(ann(688, 23, "**", size=10))
shapes.append(bracket(643, 672, 417, 4, color="#555"))
shapes.append(bracket(674, 703, 417, 4, color="#555"))
annotations.append(ann(657, 414, "***", size=10))
annotations.append(ann(690, 410, "p = 0.04", size=10))

# panel letters
for letter, x, y in (("A", 15, 14), ("B", 578, 14), ("C", 15, 206), ("D", 578, 207), ("E", 15, 410),
                     ("F", 578, 411)):
    annotations.append(ann(x, y, letter, size=17, color="#000"))

fig.update_layout(width=W, height=H, margin=dict(l=0, r=0, t=0, b=0), showlegend=False,
                  paper_bgcolor="white", plot_bgcolor="rgba(0,0,0,0)", boxmode="overlay",
                  font=dict(family=FONT), shapes=shapes, annotations=annotations, **layout)
fig.write_html("out.html", config={"displayModeBar": False},
               post_script="document.body.style.margin='0';")
